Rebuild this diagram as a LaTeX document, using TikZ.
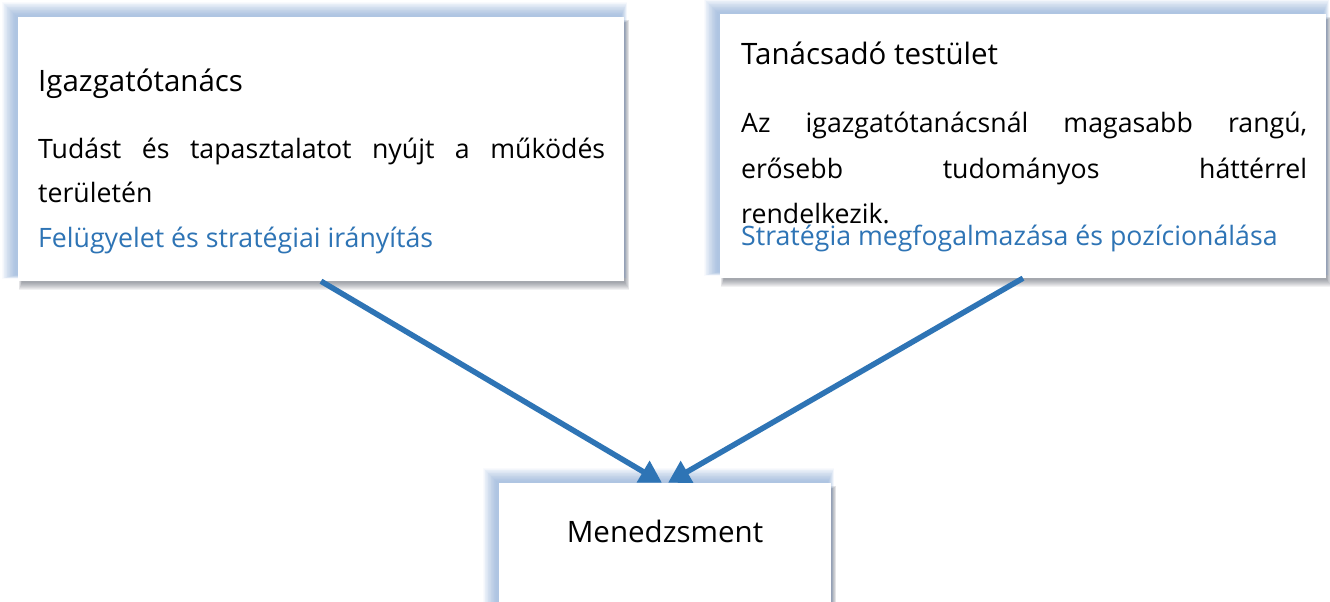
\documentclass[tikz,border=0pt]{standalone}
\usepackage{fontspec}
\setmainfont{Open Sans}
\usetikzlibrary{arrows.meta,calc,backgrounds}
\definecolor{accent}{RGB}{46,116,181}
\definecolor{glow}{RGB}{120,160,210}
\definecolor{dropc}{RGB}{60,65,80}
\tikzset{
  card/.style={rectangle, fill=white, draw=none, inner sep=0pt},
  glowlayer/.style={fill=glow, opacity=0.045},
  droplayer/.style={fill=dropc, opacity=0.07},
  txt/.style={inner sep=0pt, anchor=base west, font=\fontsize{26.7pt}{42pt}\selectfont},
  head/.style={inner sep=0pt, anchor=base west, font=\fontsize{29.5pt}{42pt}\selectfont},
  note/.style={txt, text=accent},
  link/.style={draw=accent, line width=5.5pt,
    -{Triangle[length=22pt,width=24pt]}}
}
% soft bluish halo up-left and a grey drop shadow down-right of a card
\newcommand\cardshade[1]{%
  \foreach \i in {0,...,7}{
    \fill[droplayer] ($(#1.north west)+(4-\i*0.4,6-\i*0.4)$) rectangle ($(#1.south east)+(1+\i*0.6,2+\i*0.9)$);
  }
  \foreach \i in {0,...,17}{
    \fill[glowlayer] ($(#1.north west)+(-3-\i*0.75,-2-\i*0.75)$) rectangle ($(#1.south east)+(-3+\i*0.35,-6+\i*0.2)$);
  }
}
\begin{document}
\begin{tikzpicture}[x=1pt,y=-1pt]
  \clip (0,0) rectangle (1330,602);

  % the three cards
  \node[card, minimum width=606pt, minimum height=264pt] (b1) at (321,149) {};
  \node[card, minimum width=606pt, minimum height=264pt] (b2) at (1023,146) {};
  \node[card, minimum width=332pt, minimum height=160pt] (b3) at (665,563) {};
  \begin{pgfonlayer}{background}
    \fill[white] (0,0) rectangle (1330,602);
    \cardshade{b1}
    \cardshade{b2}
    \cardshade{b3}
  \end{pgfonlayer}

  % board of directors
  \node[head] (t1) at (38,91) {Igazgatótanács};
  \node[txt] (l1a) at (38,158) {\makebox[567pt][s]{Tudást és tapasztalatot nyújt a működés}};
  \node[txt] (l1b) at (38,202) {területén};
  \node[note] (n1) at (38,247) {Felügyelet és stratégiai irányítás};

  % advisory board
  \node[head] (t2) at (741,65) {Tanácsadó testület};
  \node[txt] (l2a) at (741,132) {\makebox[566pt][s]{Az igazgatótanácsnál magasabb rangú,}};
  \node[txt] (l2b) at (741,178) {\makebox[566pt][s]{erősebb tudományos háttérrel}};
  \node[txt] (l2c) at (741,223) {rendelkezik.};
  \node[note] (n2) at (741,245) {Stratégia megfogalmazása és pozícionálása};

  % management
  \node[head, anchor=base] (t3) at (665,542) {Menedzsment};

  % connectors
  \draw[link] (b1.south) -- ($(b3.north)+(-3,0)$);
  \draw[link] (b2.south) -- ($(b3.north)+(3,0)$);
\end{tikzpicture}
\end{document}
